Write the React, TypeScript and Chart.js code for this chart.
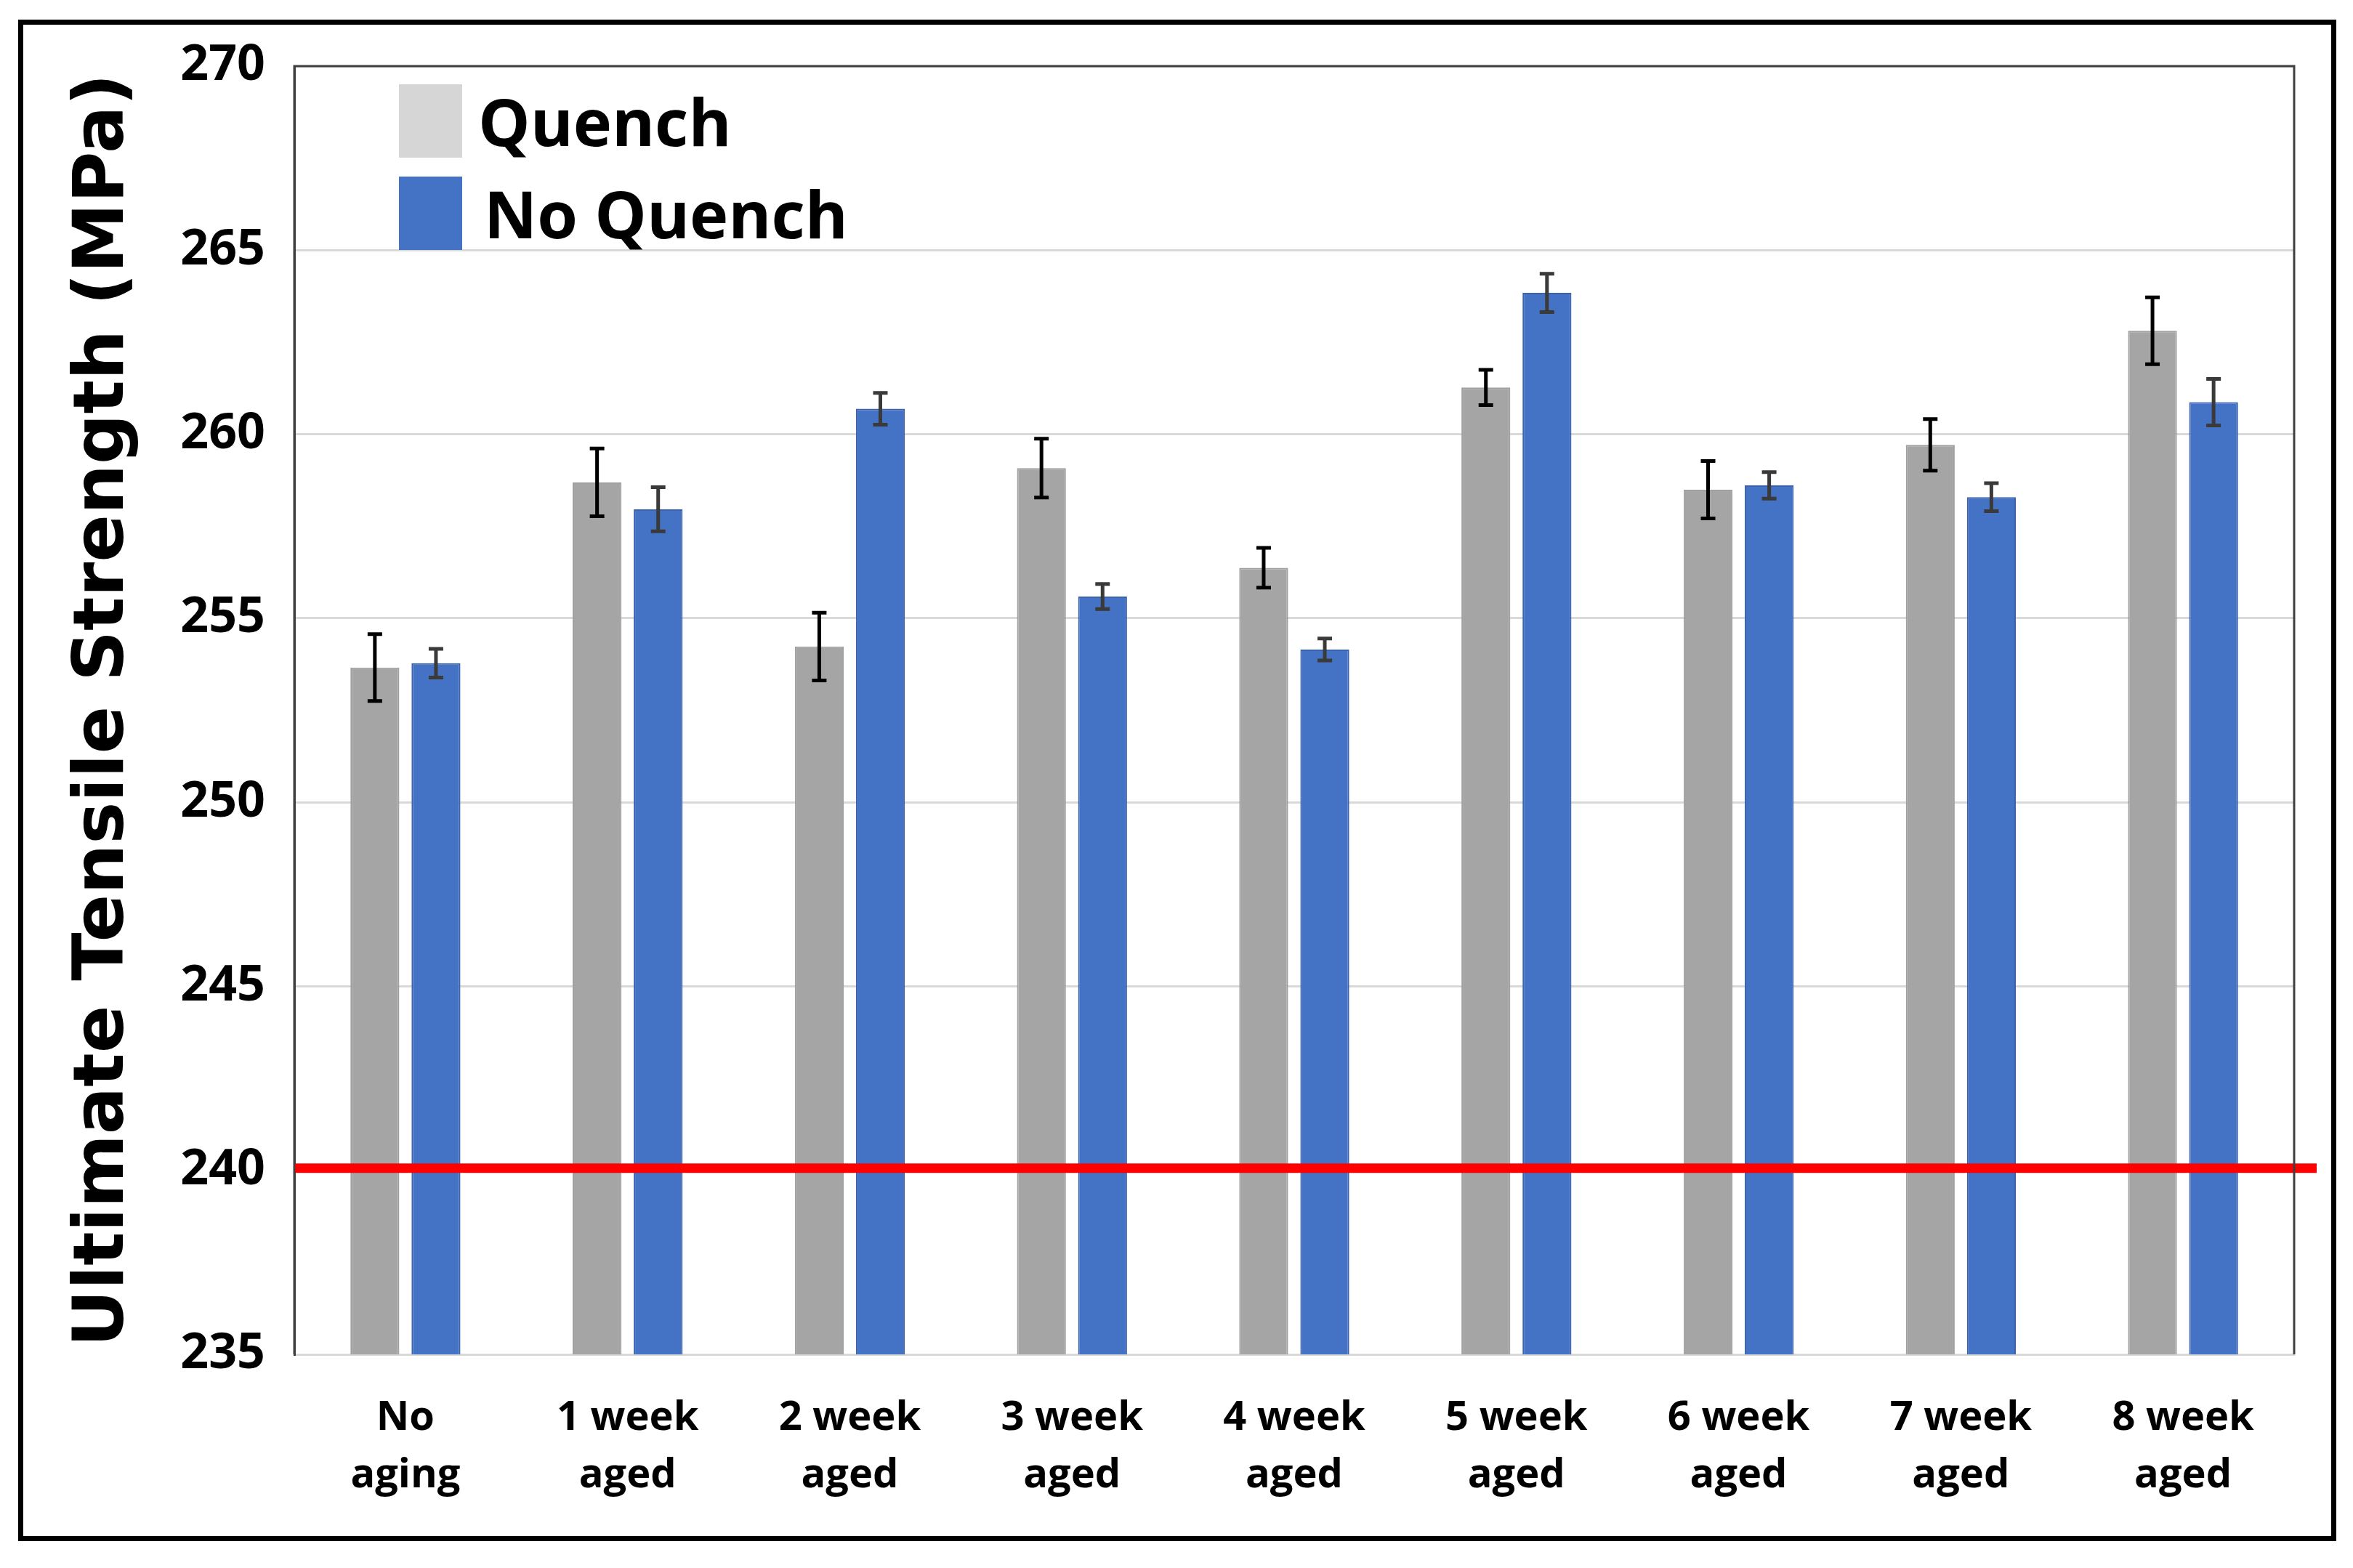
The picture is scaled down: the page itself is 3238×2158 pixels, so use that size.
import React, { useEffect, useRef } from "react";
import { Chart, registerables } from "chart.js";

Chart.register(...registerables);

// ---------- data ----------
const categories: string[][] = [
  ["No", "aging"],
  ["1 week", "aged"],
  ["2 week", "aged"],
  ["3 week", "aged"],
  ["4 week", "aged"],
  ["5 week", "aged"],
  ["6 week", "aged"],
  ["7 week", "aged"],
  ["8 week", "aged"],
];
const seriesNames = ["Quench", "No Quench"];
const quenchValues = [253.66, 258.69, 254.23, 259.08, 256.37, 261.27, 258.49, 259.71, 262.81];
const quenchErrors = [0.91, 0.92, 0.92, 0.8, 0.54, 0.48, 0.78, 0.7, 0.91];
const noQuenchValues = [253.78, 257.96, 260.69, 255.59, 254.15, 263.84, 258.61, 258.29, 260.87];
const noQuenchErrors = [0.39, 0.6, 0.43, 0.34, 0.3, 0.52, 0.36, 0.38, 0.63];
const yMin = 235;
const yMax = 270;
const yStep = 5;
const thresholdValue = 240;
const yAxisTitle = "Ultimate Tensile Strength (MPa)";

// ---------- styles ----------
const W = 3238;
const H = 2158;
const barColors = ["#a5a5a5", "#4472c4"];
const barBorders = ["#a0a0a0", "#3a62ad"];
const legendColors = ["#d6d6d6", "#4472c4"];
const errColors = ["#000000", "#3a3a3a"];
const errorsBySeries = [quenchErrors, noQuenchErrors];

const errorBarPlugin = {
  id: "errorBars",
  afterDatasetsDraw(chart: any) {
    const ctx = chart.ctx;
    const yScale = chart.scales.y;
    ctx.save();
    chart.data.datasets.forEach((ds: any, i: number) => {
      const meta = chart.getDatasetMeta(i);
      const errs = errorsBySeries[i];
      meta.data.forEach((el: any, j: number) => {
        const v = ds.data[j];
        const e = errs[j];
        const yt = yScale.getPixelForValue(v + e);
        const yb = yScale.getPixelForValue(v - e);
        const x = el.x;
        ctx.strokeStyle = errColors[i];
        ctx.lineWidth = 5;
        ctx.beginPath();
        ctx.moveTo(x, yt);
        ctx.lineTo(x, yb);
        ctx.moveTo(x - 10, yt);
        ctx.lineTo(x + 10, yt);
        ctx.moveTo(x - 10, yb);
        ctx.lineTo(x + 10, yb);
        ctx.stroke();
      });
    });
    ctx.restore();
  },
};

const thresholdPlugin = {
  id: "threshold",
  afterDatasetsDraw(chart: any) {
    const ctx = chart.ctx;
    const a = chart.chartArea;
    const y = chart.scales.y.getPixelForValue(thresholdValue);
    ctx.save();
    ctx.strokeStyle = "#ff0000";
    ctx.lineWidth = 13;
    ctx.beginPath();
    ctx.moveTo(a.left, y - 3);
    ctx.lineTo(a.right + 31, y - 3);
    ctx.stroke();
    ctx.restore();
  },
};

const framePlugin = {
  id: "frame",
  beforeDraw(chart: any) {
    const ctx = chart.ctx;
    ctx.save();
    ctx.fillStyle = "#ffffff";
    ctx.fillRect(0, 0, chart.width, chart.height);
    ctx.restore();
  },
  afterDraw(chart: any) {
    const ctx = chart.ctx;
    const a = chart.chartArea;
    ctx.save();
    ctx.strokeStyle = "#404040";
    ctx.lineWidth = 3;
    ctx.beginPath();
    ctx.moveTo(a.left, a.bottom);
    ctx.lineTo(a.left, a.top);
    ctx.lineTo(a.right, a.top);
    ctx.lineTo(a.right, a.bottom);
    ctx.stroke();
    ctx.strokeStyle = "#000000";
    ctx.lineWidth = 7;
    ctx.strokeRect(28.5, 30.5, 3183, 2087);
    ctx.restore();
  },
};

const insideLegendPlugin = {
  id: "insideLegend",
  afterDraw(chart: any) {
    const ctx = chart.ctx;
    const a = chart.chartArea;
    ctx.save();
    ctx.font = "bold 90px 'Open Sans'";
    ctx.textBaseline = "middle";
    ctx.textAlign = "left";
    seriesNames.forEach((name, i) => {
      const bx = a.left + 144;
      const by = a.top + 25 + i * 127;
      ctx.fillStyle = legendColors[i];
      ctx.fillRect(bx, by, 87, 101);
      ctx.fillStyle = "#000000";
      ctx.fillText(name, bx + 87 + 22 + i * 8, by + 59);
    });
    ctx.restore();
  },
};

export default function App() {
  const ref = useRef<HTMLCanvasElement | null>(null);

  useEffect(() => {
    if (!ref.current) return;
    const chart = new Chart(ref.current, {
      type: "bar",
      data: {
        labels: categories,
        datasets: [
          {
            label: seriesNames[0],
            data: quenchValues,
            backgroundColor: barColors[0],
            borderColor: barBorders[0],
            borderWidth: 2,
            categoryPercentage: 0.55,
            barPercentage: 0.8,
          },
          {
            label: seriesNames[1],
            data: noQuenchValues,
            backgroundColor: barColors[1],
            borderColor: barBorders[1],
            borderWidth: 2,
            categoryPercentage: 0.55,
            barPercentage: 0.8,
          },
        ],
      },
      options: {
        responsive: false,
        devicePixelRatio: 1,
        animation: false,
        layout: { padding: { left: 0, top: 91, right: 81, bottom: 94 } },
        plugins: {
          legend: { display: false },
          tooltip: { enabled: false },
          title: { display: false },
        },
        scales: {
          x: {
            grid: { display: false, drawTicks: false },
            border: { display: true, color: "#d9d9d9", width: 3 },
            ticks: {
              color: "#000000",
              font: { family: "'Open Sans'", weight: "bold", size: 56, lineHeight: 1.42 },
              padding: 48,
              maxRotation: 0,
              autoSkip: false,
            },
            afterFit: (s: any) => {
              s.height = 200;
            },
          },
          y: {
            min: yMin,
            max: yMax,
            grid: { color: "#d9d9d9", lineWidth: 3, drawTicks: false },
            border: { display: true, color: "#404040", width: 3 },
            ticks: {
              stepSize: yStep,
              color: "#000000",
              font: { family: "'Open Sans'", weight: "bold", size: 68 },
              padding: 40,
            },
            title: {
              display: true,
              text: yAxisTitle,
              color: "#000000",
              font: { family: "'DejaVu Sans'", weight: "bold", size: 97 },
              padding: { top: 86, bottom: 0 },
            },
            afterFit: (s: any) => {
              s.width = 405;
            },
          },
        },
      },
      plugins: [framePlugin, errorBarPlugin, thresholdPlugin, insideLegendPlugin],
    } as any);
    return () => chart.destroy();
  }, []);

  return (
    <div style={{ position: "fixed", left: 0, top: 0, width: W, height: H, background: "#fff" }}>
      <canvas ref={ref} width={W} height={H} style={{ display: "block", width: W, height: H }} />
    </div>
  );
}
